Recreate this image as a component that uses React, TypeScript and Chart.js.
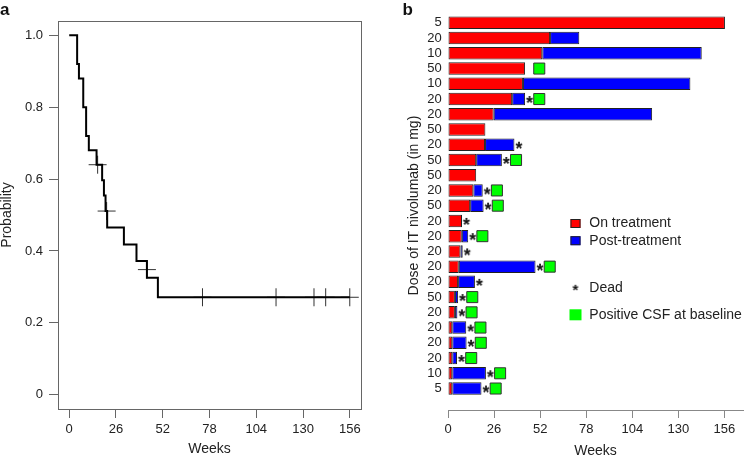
import React, { useEffect, useRef } from "react";
import { Chart, registerables } from "chart.js";

Chart.register(...registerables);

const FONT = "'Liberation Sans', Arial, sans-serif";
const TEXT = "#222222";

// ---------- Panel a: Kaplan-Meier ----------
const kmWeeks = [0, 4.4, 5.4, 7.8, 9.4, 10.9, 15.2, 18.3, 19.3, 20.2, 21.1, 30.4, 37.4, 43.2, 49.3, 156];
const kmProb = [1.0, 0.92, 0.88, 0.8, 0.72, 0.68, 0.64, 0.597, 0.554, 0.511, 0.465, 0.418, 0.372, 0.325, 0.271, 0.271];
const censorWeeks = [15.8, 20.8, 43.2, 74.1, 115, 136.1, 142.6, 156];
const censorProb = [0.64, 0.511, 0.348, 0.271, 0.271, 0.271, 0.271, 0.271];
const weekTicks = [0, 26, 52, 78, 104, 130, 156];
const probTicks = [0, 0.2, 0.4, 0.6, 0.8, 1.0];
const probTickLabels = ["0", "0.2", "0.4", "0.6", "0.8", "1.0"];

// ---------- Panel b: swimmer plot ----------
const doses = ["5", "20", "10", "50", "10", "20", "20", "50", "20", "50", "50", "20", "50", "20", "20", "20", "20", "20", "50", "20", "20", "20", "20", "10", "5"];
const onTreatmentWeeks = [156.3, 57.6, 53.2, 43.5, 42.3, 36.2, 25.8, 21.1, 20.9, 15.9, 15.9, 14.3, 12.5, 7.9, 7.8, 7.0, 6.1, 5.7, 3.9, 3.9, 2.4, 2.4, 2.4, 2.4, 2.4];
const totalWeeks = [156.3, 74.1, 143.2, 43.5, 136.8, 43.5, 115.2, 21.1, 37.5, 30.4, 15.9, 19.6, 20.1, 7.9, 11.4, 8.3, 49.4, 15.2, 5.7, 5.3, 10.3, 10.5, 5.1, 21.4, 18.9];
const dead = [0, 0, 0, 0, 0, 1, 0, 0, 1, 1, 0, 1, 1, 1, 1, 1, 1, 1, 1, 1, 1, 1, 1, 1, 1];
const csfPositive = [0, 0, 0, 1, 0, 1, 0, 0, 0, 1, 0, 1, 1, 0, 1, 0, 1, 0, 1, 1, 1, 1, 1, 1, 1];
const legendLabels = ["On treatment", "Post-treatment", "Dead", "Positive CSF at baseline"];

const STAR_OFFSET = 2.5;
const CSF_OFFSET = 8;

const RED = "#FF0000";
const BLUE = "#0000FF";
const GREEN = "#00FF00";

function makeStarImage(size: number, fontPx: number): HTMLCanvasElement {
  const c = document.createElement("canvas");
  c.width = size;
  c.height = size;
  const g = c.getContext("2d")!;
  g.fillStyle = "#111";
  g.font = `bold ${fontPx}px ${FONT}`;
  const m = g.measureText("*");
  const w = m.actualBoundingBoxRight + m.actualBoundingBoxLeft;
  const h = m.actualBoundingBoxAscent + m.actualBoundingBoxDescent;
  const x = (size - w) / 2 + m.actualBoundingBoxLeft;
  const y = (size - h) / 2 + m.actualBoundingBoxAscent;
  g.fillText("*", x, y);
  return c;
}

export default function App() {
  const refA = useRef<HTMLCanvasElement | null>(null);
  const refB = useRef<HTMLCanvasElement | null>(null);

  useEffect(() => {
    Chart.defaults.font.family = FONT;
    Chart.defaults.color = TEXT;

    const boxPlugin = {
      id: "boxA",
      afterDraw(chart: any) {
        const { ctx, chartArea: a } = chart;
        ctx.save();
        ctx.strokeStyle = "#666";
        ctx.lineWidth = 1;
        ctx.strokeRect(Math.round(a.left) + 0.5, Math.round(a.top) + 0.5, Math.round(a.right - a.left), Math.round(a.bottom - a.top));
        ctx.fillStyle = "#111";
        ctx.font = `bold 17px ${FONT}`;
        ctx.textBaseline = "alphabetic";
        ctx.textAlign = "left";
        ctx.fillText("a", 0, 15);
        ctx.restore();
      },
    };

    const chartA = new Chart(refA.current!, {
      type: "line",
      data: {
        datasets: [
          {
            type: "line",
            data: kmWeeks.map((w, i) => ({ x: w, y: kmProb[i] })),
            stepped: "before",
            borderColor: "#000",
            borderWidth: 2,
            pointRadius: 0,
            fill: false,
          } as any,
          {
            type: "scatter",
            data: censorWeeks.map((w, i) => ({ x: w, y: censorProb[i] })),
            pointStyle: "cross",
            pointRadius: 9,
            pointBorderWidth: 1,
            pointBorderColor: "#333",
            showLine: false,
          } as any,
        ],
      },
      options: {
        animation: false,
        responsive: false,
        devicePixelRatio: 1,
        layout: { padding: { top: 21, right: 19, left: 0, bottom: 0 } },
        plugins: { legend: { display: false }, tooltip: { enabled: false } },
        scales: {
          x: {
            type: "linear",
            min: -6.24,
            max: 162.24,
            afterBuildTicks: (s: any) => {
              s.ticks = weekTicks.map((v) => ({ value: v }));
            },
            afterFit: (s: any) => {
              s.height = 47;
            },
            grid: { display: true, drawOnChartArea: false, drawTicks: true, tickLength: 9, color: "#666" },
            border: { display: false },
            ticks: {
              padding: 4,
              color: TEXT,
              autoSkip: false,
              maxRotation: 0,
              font: { family: FONT, size: 13 },
              callback: (v: any, i: number) => String(weekTicks[i]),
            },
            title: { display: true, text: "Weeks", color: TEXT, font: { family: FONT, size: 14, lineHeight: 1 }, padding: { top: 0, bottom: 0 } },
          },
          y: {
            type: "linear",
            min: -0.04,
            max: 1.04,
            afterBuildTicks: (s: any) => {
              s.ticks = probTicks.map((v) => ({ value: v }));
            },
            afterFit: (s: any) => {
              s.width = 58;
            },
            grid: { display: true, drawOnChartArea: false, drawTicks: true, tickLength: 9, color: "#666" },
            border: { display: false },
            ticks: {
              padding: 6,
              color: TEXT,
              autoSkip: false,
              font: { family: FONT, size: 13 },
              callback: (v: any, i: number) => probTickLabels[i],
            },
            title: { display: true, text: "Probability", color: TEXT, font: { family: FONT, size: 14, lineHeight: 1 }, padding: { top: 0, bottom: 0 } },
          },
        },
      } as any,
      plugins: [boxPlugin],
    });

    const starImg = makeStarImage(14, 18);
    const legendStar = makeStarImage(12, 15);

    const legendPlugin = {
      id: "legendB",
      afterDraw(chart: any) {
        const { ctx } = chart;
        ctx.save();
        // panel label
        ctx.fillStyle = "#111";
        ctx.font = `bold 17px ${FONT}`;
        ctx.textBaseline = "alphabetic";
        ctx.textAlign = "left";
        ctx.fillText("b", 22.5, 28);
        // legend
        const cx = 195.5;
        const tx = 209.3;
        const ys = [236.5, 253.7, 300.8, 328.3];
        ctx.lineWidth = 1;
        ctx.strokeStyle = "#222";
        ctx.fillStyle = RED;
        ctx.fillRect(cx - 5, ys[0] - 4.5, 10, 9);
        ctx.strokeRect(cx - 5 + 0.5, ys[0] - 4.5 + 0.5, 9, 8);
        ctx.fillStyle = BLUE;
        ctx.fillRect(cx - 5, ys[1] - 4.5, 10, 9);
        ctx.strokeRect(cx - 5 + 0.5, ys[1] - 4.5 + 0.5, 9, 8);
        ctx.drawImage(legendStar, cx - 6, ys[2] - 6);
        ctx.fillStyle = GREEN;
        ctx.fillRect(cx - 6, ys[3] - 6, 12, 11);
        ctx.fillStyle = TEXT;
        ctx.font = `14px ${FONT}`;
        ctx.textBaseline = "middle";
        legendLabels.forEach((t, i) => ctx.fillText(t, tx, ys[i]));
        ctx.restore();
      },
    };

    const chartB = new Chart(refB.current!, {
      type: "bar",
      data: {
        datasets: [
          {
            type: "bar",
            data: doses.map((_, i) => ({ y: i + 1, x: [0, onTreatmentWeeks[i]] })),
            backgroundColor: RED,
            borderColor: "#222",
            borderWidth: 1,
            borderSkipped: false,
            grouped: false,
            barPercentage: 0.82,
            categoryPercentage: 1,
          } as any,
          {
            type: "bar",
            data: doses
              .map((_, i) => ({ y: i + 1, x: [onTreatmentWeeks[i], totalWeeks[i]] }))
              .filter((_, i) => totalWeeks[i] > onTreatmentWeeks[i]),
            backgroundColor: BLUE,
            borderColor: "#222",
            borderWidth: 1,
            borderSkipped: false,
            grouped: false,
            barPercentage: 0.82,
            categoryPercentage: 1,
          } as any,
          {
            type: "scatter",
            indexAxis: "x",
            data: doses.map((_, i) => ({ x: totalWeeks[i] + STAR_OFFSET, y: i + 1 })).filter((_, i) => dead[i] === 1),
            pointStyle: starImg,
            pointRadius: 6,
            showLine: false,
          } as any,
          {
            type: "scatter",
            indexAxis: "x",
            data: doses.map((_, i) => ({ x: totalWeeks[i] + CSF_OFFSET, y: i + 1 })).filter((_, i) => csfPositive[i] === 1),
            pointStyle: "rect",
            pointRadius: 7.8,
            pointBackgroundColor: GREEN,
            pointBorderColor: "#333",
            pointBorderWidth: 1,
            showLine: false,
          } as any,
        ],
      },
      options: {
        animation: false,
        responsive: false,
        devicePixelRatio: 1,
        indexAxis: "y",
        layout: { padding: 0 },
        plugins: { legend: { display: false }, tooltip: { enabled: false } },
        scales: {
          x: {
            type: "linear",
            min: 0,
            max: 166.6,
            offset: false,
            afterBuildTicks: (s: any) => {
              s.ticks = weekTicks.map((v) => ({ value: v }));
            },
            afterFit: (s: any) => {
              s.height = 48;
            },
            grid: { display: true, offset: false, drawOnChartArea: false, drawTicks: true, tickLength: 8, color: "#888" },
            border: { display: true, color: "#888", width: 1 },
            ticks: {
              padding: 4,
              color: TEXT,
              autoSkip: false,
              maxRotation: 0,
              font: { family: FONT, size: 13 },
              callback: (v: any, i: number) => String(weekTicks[i]),
            },
            title: { display: true, text: "Weeks", color: TEXT, font: { family: FONT, size: 14, lineHeight: 1 }, padding: { top: 0, bottom: 0 } },
          },
          y: {
            type: "linear",
            reverse: true,
            min: -0.428,
            max: 26.41,
            offset: false,
            afterBuildTicks: (s: any) => {
              s.ticks = doses.map((_, i) => ({ value: i + 1 }));
            },
            afterFit: (s: any) => {
              s.width = 68;
            },
            grid: { display: false, drawTicks: false, offset: false },
            border: { display: false },
            ticks: {
              padding: 6.3,
              color: TEXT,
              autoSkip: false,
              font: { family: FONT, size: 13 },
              callback: (v: any, i: number) => doses[i],
            },
            title: {
              display: true,
              text: "Dose of IT nivolumab (in mg)",
              color: TEXT,
              font: { family: FONT, size: 14, lineHeight: 1 },
              padding: { top: 26.7, bottom: 0 },
            },
          },
        },
      } as any,
      plugins: [legendPlugin],
    });

    return () => {
      chartA.destroy();
      chartB.destroy();
    };
  }, []);

  return (
    <div style={{ position: "fixed", left: 0, top: 0, width: 752, height: 456, overflow: "hidden", background: "#fff" }}>
      <canvas ref={refA} width={380} height={456} style={{ position: "absolute", left: 0, top: 0, width: 380, height: 456 }} />
      <canvas ref={refB} width={372} height={471} style={{ position: "absolute", left: 380, top: -13, width: 372, height: 471 }} />
    </div>
  );
}
